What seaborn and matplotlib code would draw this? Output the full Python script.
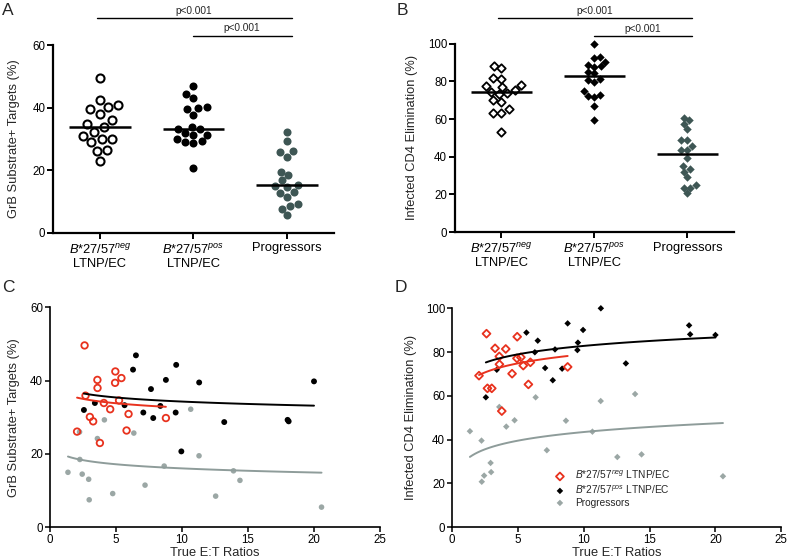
import numpy as np
import pandas as pd
import seaborn as sns
import matplotlib.pyplot as plt
import matplotlib.transforms as mtransforms

# per-patient values: E:T ratio, GrB substrate+ targets (%), infected CD4 elimination (%)
neg_et = [2.05, 2.62, 2.69, 3.02, 3.27, 3.59, 3.60, 3.78, 4.08, 4.56, 4.95, 4.93, 5.23, 5.41, 5.80, 5.95, 8.78]
neg_grb = [26.1, 49.6, 35.9, 30.1, 28.9, 40.2, 38.0, 23.0, 33.9, 32.2, 42.5, 39.4, 34.6, 40.7, 26.4, 30.9, 29.8]
neg_elim = [69.2, 88.4, 63.4, 63.4, 81.7, 78.0, 74.4, 53.0, 81.4, 70.1, 87.0, 77.1, 77.6, 73.8, 65.2, 75.3, 73.2]

pos_et = [2.57, 3.40, 5.65, 6.29, 6.51, 7.07, 7.65, 7.82, 8.36, 8.78, 9.52, 9.56, 9.95, 11.30, 13.20, 18.00, 18.08, 20.00]
pos_grb = [32.0, 33.9, 33.3, 43.0, 46.9, 31.3, 37.7, 29.8, 33.1, 40.2, 31.3, 44.3, 20.7, 39.5, 28.7, 29.3, 28.9, 39.8]
pos_elim = [59.3, 71.9, 88.9, 79.9, 85.2, 72.7, 67.1, 81.2, 72.4, 93.1, 80.9, 84.3, 90.1, 100.0, 74.8, 92.2, 88.1, 87.8]

prog_et = [1.36, 2.24, 2.26, 2.44, 2.93, 2.97, 3.59, 4.12, 4.75, 6.35, 7.20, 8.65, 10.66, 11.29, 12.55, 13.90, 14.39, 20.57]
prog_grb = [15.0, 26.0, 18.5, 14.5, 13.1, 7.5, 24.2, 29.3, 9.2, 25.7, 11.5, 16.7, 32.2, 19.5, 8.5, 15.4, 12.8, 5.5]
prog_elim = [43.8, 39.5, 20.7, 23.5, 29.3, 25.1, 54.9, 45.9, 48.8, 59.3, 35.1, 48.6, 43.6, 57.6, 32.0, 60.8, 33.2, 23.2]

# log curve fits shown in C and D (y = a + b*ln(x)), order neg, pos, prog
fitC_a = [36.6, 38.0, 19.8]
fitC_b = [-1.72, -1.61, -1.62]
fitD_a = [65.2, 70.0, 30.3]
fitD_b = [5.98, 5.56, 5.70]

groups = ['neg', 'pos', 'prog']
neg_lab = r"$\mathit{B{*}27/57}^{\mathit{neg}}$"
pos_lab = r"$\mathit{B{*}27/57}^{\mathit{pos}}$"
cat_labels = [neg_lab + "\nLTNP/EC", pos_lab + "\nLTNP/EC", "Progressors"]
legend_labels = [neg_lab + " LTNP/EC", pos_lab + " LTNP/EC", "Progressors"]

df = pd.DataFrame({
    'group': ['neg'] * len(neg_et) + ['pos'] * len(pos_et) + ['prog'] * len(prog_et),
    'et': neg_et + pos_et + prog_et,
    'grb': neg_grb + pos_grb + prog_grb,
    'elim': neg_elim + pos_elim + prog_elim,
})

sns.set_style('ticks')
plt.rcParams['font.family'] = ['Liberation Sans', 'DejaVu Sans']
plt.rcParams['mathtext.fontset'] = 'custom'
plt.rcParams['mathtext.it'] = 'Liberation Sans:italic'
plt.rcParams['mathtext.rm'] = 'Liberation Sans'
plt.rcParams['axes.edgecolor'] = 'black'
plt.rcParams['xtick.color'] = 'black'
plt.rcParams['ytick.color'] = 'black'

W, H = 788, 559
fig = plt.figure(figsize=(W / 100, H / 100), dpi=100)

def px_axes(x0, y0, x1, y1):
    return fig.add_axes([x0 / W, 1 - y1 / H, (x1 - x0) / W, (y1 - y0) / H])

axA = px_axes(53, 45, 334, 232.7)
axB = px_axes(454.7, 43.7, 734, 232)
axC = px_axes(50, 307.3, 380, 527.3)
axD = px_axes(452, 308.3, 781.3, 527)

dark = '#3e5654'
light = '#9ba7a5'
red = '#e8321e'

# ---- A / B strip plots ----
for ax, col, marker, size, lw_open, ymax, ylabel in [
        (axA, 'grb', 'o', 5.8, 1.5, 60, 'GrB Substrate+ Targets (%)'),
        (axB, 'elim', 'D', 4.3, 1.3, 100, 'Infected CD4 Elimination (%)')]:
    strip_styles = {
        'neg': dict(color='white', edgecolor='black', linewidth=lw_open),
        'pos': dict(color='black', edgecolor='black', linewidth=0),
        'prog': dict(color=dark, edgecolor=dark, linewidth=0),
    }
    for g in groups:
        sub = df[df.group == g]
        sns.swarmplot(data=sub, x='group', y=col, order=groups, ax=ax, marker=marker,
                      size=size, clip_on=False, **strip_styles[g])
        med = sub[col].median()
        ax.hlines(med, groups.index(g) - 0.33, groups.index(g) + 0.33, color='black', lw=1.8, zorder=5)
    ax.set_xlim(-0.5, 2.5)
    ax.set_ylim(0, ymax)
    ax.set_yticks(np.arange(0, ymax + 1, 20))
    ax.set_xticks([0, 1, 2])
    ax.set_xticklabels(cat_labels, fontsize=9.3, linespacing=1.15)
    ax.set_xlabel('')
    ax.set_ylabel(ylabel, fontsize=9.3)
    ax.tick_params(axis='y', labelsize=8.3, width=1.4, length=4, pad=1.5)
    ax.tick_params(axis='x', width=1.4, length=4, pad=3)
    for s in ['left', 'bottom']:
        ax.spines[s].set_linewidth(1.6)
    sns.despine(ax=ax)

# significance bars
for ax, y_long, y_short in [(axA, 1.143, 1.050), (axB, 1.137, 1.041)]:
    tr = mtransforms.blended_transform_factory(ax.transData, ax.transAxes)
    ax.plot([-0.03, 2.05], [y_long, y_long], color='black', lw=1.0, transform=tr, clip_on=False)
    ax.plot([1.0, 2.05], [y_short, y_short], color='black', lw=1.0, transform=tr, clip_on=False)
    ax.text(1.0, y_long + 0.012, 'p<0.001', transform=tr, ha='center', va='bottom', fontsize=7.3)
    ax.text(1.52, y_short + 0.012, 'p<0.001', transform=tr, ha='center', va='bottom', fontsize=7.3)

# ---- C / D scatter with log fits ----
scatter_styles = {
    'C': {
        'neg': dict(marker='o', s=22, facecolor='none', edgecolor=red, linewidth=1.3),
        'pos': dict(marker='o', s=18, color='black', edgecolor='none'),
        'prog': dict(marker='o', s=16, color=light, edgecolor='none'),
    },
    'D': {
        'neg': dict(marker='D', s=16, facecolor='none', edgecolor=red, linewidth=1.3),
        'pos': dict(marker='D', s=11, color='black', edgecolor='none'),
        'prog': dict(marker='D', s=11, color=light, edgecolor='none'),
    },
}
line_colors = {'neg': red, 'pos': 'black', 'prog': '#8e9c9a'}

for ax, key, col, fa, fb, ymax, ylabel in [
        (axC, 'C', 'grb', fitC_a, fitC_b, 60, 'GrB Substrate+ Targets (%)'),
        (axD, 'D', 'elim', fitD_a, fitD_b, 100, 'Infected CD4 Elimination (%)')]:
    for g, lab in zip(['prog', 'pos', 'neg'], legend_labels[::-1]):
        sub = df[df.group == g]
        sns.scatterplot(data=sub, x='et', y=col, ax=ax, label=lab, zorder=3, clip_on=False,
                        **scatter_styles[key][g])
    for i, g in enumerate(groups):
        sub = df[df.group == g]
        xs = np.linspace(sub.et.min(), sub.et.max(), 100)
        ax.plot(xs, fa[i] + fb[i] * np.log(xs), color=line_colors[g], lw=1.4, zorder=4)
    ax.set_xlim(0, 25)
    ax.set_ylim(0, ymax)
    ax.set_xticks(np.arange(0, 26, 5))
    ax.set_yticks(np.arange(0, ymax + 1, 20))
    ax.set_xlabel('True E:T Ratios', fontsize=9.3, labelpad=0.5)
    ax.set_ylabel(ylabel, fontsize=9.3)
    ax.tick_params(labelsize=8.3, width=1.1, length=3.5, pad=1.5)
    for s in ['left', 'bottom']:
        ax.spines[s].set_linewidth(1.2)
    sns.despine(ax=ax)

axC.get_legend().remove()
handles, labels = axD.get_legend_handles_labels()
axD.legend(handles[::-1], labels[::-1], loc='upper left', bbox_to_anchor=(0.3, 0.285),
           frameon=False, fontsize=7.3, handletextpad=1.0, labelspacing=0.2,
           borderaxespad=0, handlelength=1.0)

axA.yaxis.set_label_coords(-0.118, 0.5)
axB.yaxis.set_label_coords(-0.13, 0.5)
axC.yaxis.set_label_coords(-0.092, 0.5)
axD.yaxis.set_label_coords(-0.105, 0.5)

for letter, x, y in [('A', 2, 3), ('B', 397, 3), ('C', 2, 280), ('D', 395, 280)]:
    fig.text(x / W, 1 - y / H, letter, fontsize=12.5, ha='left', va='top')

fig.savefig('out.png', dpi=100)
